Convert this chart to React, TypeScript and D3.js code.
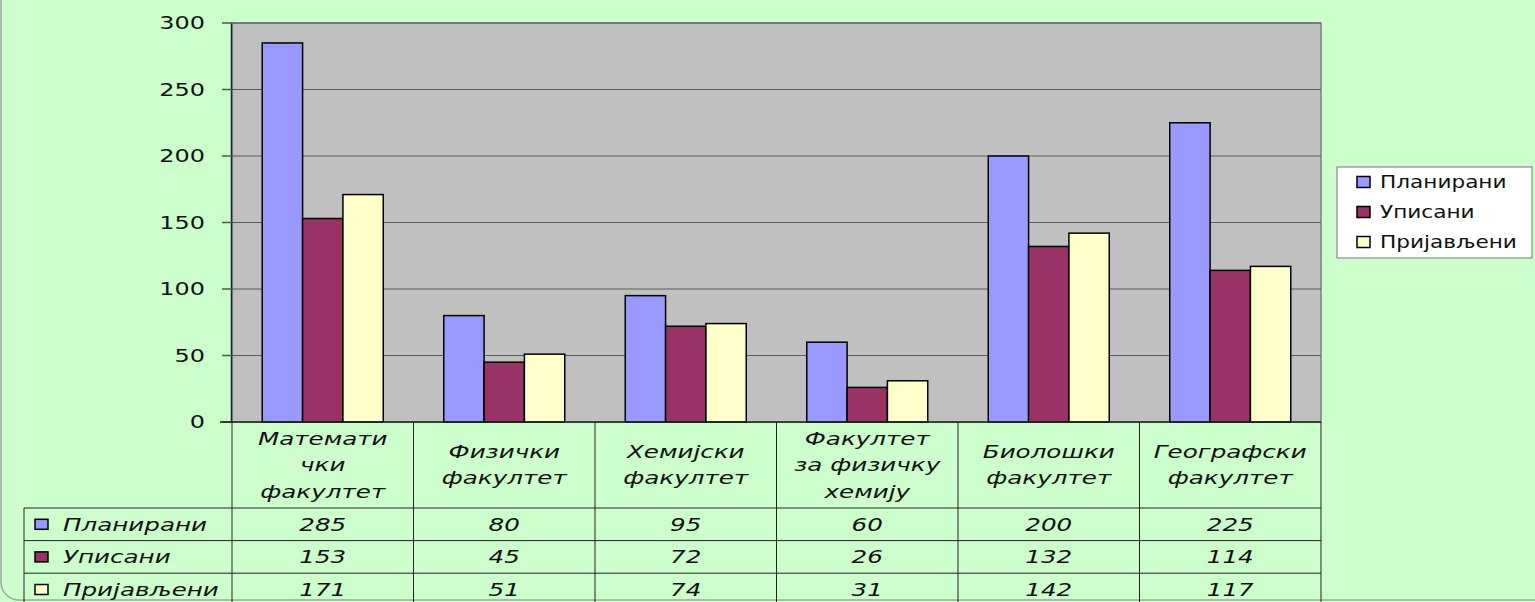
import React, { useEffect, useRef } from "react";
import * as d3 from "d3";

// chart data
const categories = [
  "Математички факултет",
  "Физички факултет",
  "Хемијски факултет",
  "Факултет за физичку хемију",
  "Биолошки факултет",
  "Географски факултет",
];
// how the category names wrap in the table header
const categoryLines = [
  ["Математи", "чки", "факултет"],
  ["Физички", "факултет"],
  ["Хемијски", "факултет"],
  ["Факултет", "за физичку", "хемију"],
  ["Биолошки", "факултет"],
  ["Географски", "факултет"],
];
const seriesNames = ["Планирани", "Уписани", "Пријављени"];
const planned = [285, 80, 95, 60, 200, 225];
const enrolled = [153, 45, 72, 26, 132, 114];
const applied = [171, 51, 74, 31, 142, 117];
const yTicks = [0, 50, 100, 150, 200, 250, 300];

const seriesColors = ["#9999ff", "#993366", "#ffffcc"];

const W = 1535;
const H = 602;

const App: React.FC = () => {
  const svgRef = useRef<SVGSVGElement | null>(null);

  useEffect(() => {
    const svg = d3.select(svgRef.current);
    svg.selectAll("*").remove();

    const values = [planned, enrolled, applied];
    const left = 232;
    const right = 1321;
    const top = 23;
    const bottom = 422;
    const sx = 1.33; // source picture is stretched horizontally

    const y = d3.scaleLinear().domain([0, 300]).range([bottom, top]);
    const x0 = d3
      .scaleBand<string>()
      .domain(categories)
      .range([left, right])
      .paddingInner(1 / 3)
      .paddingOuter(1 / 6);
    const x1 = d3
      .scaleBand<number>()
      .domain(d3.range(seriesNames.length))
      .range([0, x0.bandwidth()]);
    const cell = d3.scaleBand<string>().domain(categories).range([left, right]);

    // background + rounded frame
    svg.append("rect").attr("width", W).attr("height", H).attr("fill", "#ccffcc");
    svg
      .append("rect")
      .attr("x", 1)
      .attr("y", -30)
      .attr("width", W + 40)
      .attr("height", 630)
      .attr("rx", 18)
      .attr("fill", "none")
      .attr("stroke", "#9aa89a")
      .attr("stroke-width", 1.5);

    // plot area
    svg
      .append("rect")
      .attr("x", left)
      .attr("y", top)
      .attr("width", right - left)
      .attr("height", bottom - top)
      .attr("fill", "#c0c0c0")
      .attr("stroke", "#808080")
      .attr("stroke-width", 1.5);

    const grid = svg.append("g");
    yTicks.slice(1).forEach((t) => {
      grid
        .append("line")
        .attr("x1", left)
        .attr("x2", right)
        .attr("y1", y(t))
        .attr("y2", y(t))
        .attr("stroke", "#5a5a5a")
        .attr("stroke-width", 1);
    });

    // y axis
    const axis = svg.append("g");
    axis
      .append("line")
      .attr("x1", left - 0.5)
      .attr("x2", left - 0.5)
      .attr("y1", top)
      .attr("y2", bottom)
      .attr("stroke", "#222")
      .attr("stroke-width", 1.5);
    yTicks.forEach((t) => {
      axis
        .append("line")
        .attr("x1", 222)
        .attr("x2", left)
        .attr("y1", y(t))
        .attr("y2", y(t))
        .attr("stroke", "#555")
        .attr("stroke-width", 1.5);
      axis
        .append("text")
        .attr("transform", `translate(205,${y(t)}) scale(${sx},1)`)
        .attr("text-anchor", "end")
        .attr("dy", "0.36em")
        .attr("font-family", "DejaVu Sans, Verdana, sans-serif")
        .attr("font-size", 18)
        .attr("fill", "#111")
        .text(t);
    });

    // bars
    const bars = svg.append("g");
    categories.forEach((c, i) => {
      values.forEach((vals, s) => {
        bars
          .append("rect")
          .attr("x", x0(c)! + x1(s)!)
          .attr("y", y(vals[i]))
          .attr("width", x1.bandwidth())
          .attr("height", bottom - y(vals[i]))
          .attr("fill", seriesColors[s])
          .attr("stroke", "#000")
          .attr("stroke-width", 1.5);
      });
    });

    // data table
    const table = svg.append("g");
    const tableFont = "DejaVu Sans, Verdana, sans-serif";
    const tableSize = 18.5;
    const headerBottom = 508;
    const rowH = 32.6;
    const tableLeft = 24;
    const lineColor = "#222";

    // horizontal lines
    [0, 1, 2, 3].forEach((r) => {
      const yy = headerBottom + r * rowH;
      table
        .append("line")
        .attr("x1", tableLeft)
        .attr("x2", right)
        .attr("y1", yy)
        .attr("y2", yy)
        .attr("stroke", lineColor)
        .attr("stroke-width", 1);
    });
    table
      .append("line")
      .attr("x1", left - 12)
      .attr("x2", right)
      .attr("y1", bottom)
      .attr("y2", bottom)
      .attr("stroke", lineColor)
      .attr("stroke-width", 1.5);
    // vertical lines
    categories.forEach((c) => {
      table
        .append("line")
        .attr("x1", cell(c)!)
        .attr("x2", cell(c)!)
        .attr("y1", bottom)
        .attr("y2", H)
        .attr("stroke", lineColor)
        .attr("stroke-width", 1);
    });
    table
      .append("line")
      .attr("x1", right)
      .attr("x2", right)
      .attr("y1", bottom)
      .attr("y2", H)
      .attr("stroke", lineColor)
      .attr("stroke-width", 1);
    table
      .append("line")
      .attr("x1", tableLeft)
      .attr("x2", tableLeft)
      .attr("y1", headerBottom)
      .attr("y2", H)
      .attr("stroke", lineColor)
      .attr("stroke-width", 1);

    // header text
    const lineGap = 26.5;
    categories.forEach((c, i) => {
      const lines = categoryLines[i];
      const cx = cell(c)! + cell.bandwidth() / 2;
      const cy = (bottom + headerBottom) / 2;
      lines.forEach((ln, k) => {
        const ly = cy + (k - (lines.length - 1) / 2) * lineGap;
        table
          .append("text")
          .attr("transform", `translate(${cx},${ly}) scale(${sx},1)`)
          .attr("text-anchor", "middle")
          .attr("dy", "0.33em")
          .attr("font-family", tableFont)
          .attr("font-style", "italic")
          .attr("font-size", tableSize)
          .attr("fill", "#111")
          .text(ln);
      });
    });

    // rows
    seriesNames.forEach((name, s) => {
      const cy = headerBottom + (s + 0.5) * rowH;
      table
        .append("rect")
        .attr("x", 35)
        .attr("y", cy - 5)
        .attr("width", 13)
        .attr("height", 10)
        .attr("fill", seriesColors[s])
        .attr("stroke", "#000")
        .attr("stroke-width", 1.5);
      table
        .append("text")
        .attr("transform", `translate(63,${cy}) scale(${sx},1)`)
        .attr("dy", "0.35em")
        .attr("font-family", tableFont)
        .attr("font-style", "italic")
        .attr("font-size", tableSize)
        .attr("fill", "#111")
        .text(name);
      categories.forEach((c, i) => {
        table
          .append("text")
          .attr(
            "transform",
            `translate(${cell(c)! + cell.bandwidth() / 2},${cy}) scale(${sx},1)`
          )
          .attr("text-anchor", "middle")
          .attr("dy", "0.35em")
          .attr("font-family", tableFont)
          .attr("font-style", "italic")
          .attr("font-size", tableSize)
          .attr("fill", "#111")
          .text(values[s][i]);
      });
    });

    // legend
    const legend = svg.append("g");
    legend
      .append("rect")
      .attr("x", 1337)
      .attr("y", 167)
      .attr("width", 195)
      .attr("height", 91)
      .attr("fill", "#fff")
      .attr("stroke", "#777")
      .attr("stroke-width", 1);
    seriesNames.forEach((name, s) => {
      const cy = 182 + s * 30;
      legend
        .append("rect")
        .attr("x", 1357)
        .attr("y", cy - 5.5)
        .attr("width", 13)
        .attr("height", 11)
        .attr("fill", seriesColors[s])
        .attr("stroke", "#000")
        .attr("stroke-width", 1.5);
      legend
        .append("text")
        .attr("transform", `translate(1380,${cy}) scale(1.2,1)`)
        .attr("dy", "0.36em")
        .attr("font-family", "DejaVu Sans, Verdana, sans-serif")
        .attr("font-size", 18)
        .attr("fill", "#111")
        .text(name);
    });
  }, []);

  return (
    <svg
      ref={svgRef}
      width={W}
      height={H}
      style={{ position: "absolute", left: 0, top: 0, display: "block" }}
    ></svg>
  );
};

export default App;
